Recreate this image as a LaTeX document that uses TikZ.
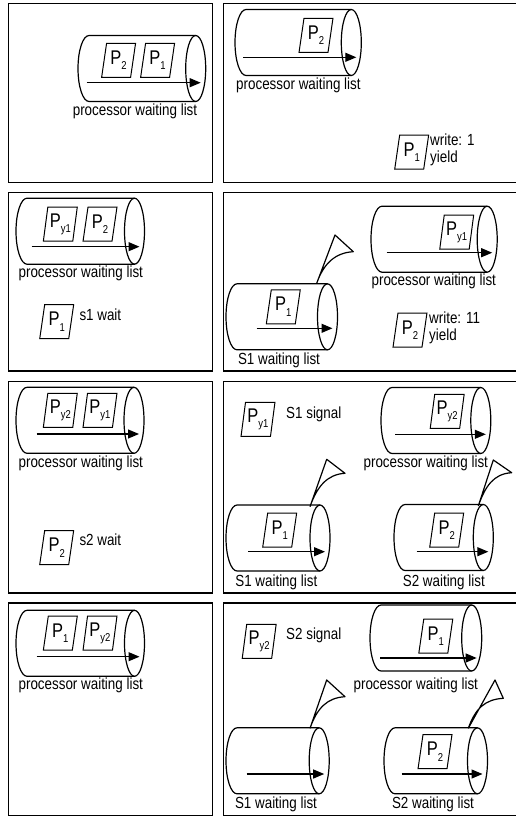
\documentclass[tikz,border=0pt]{standalone}
\usepackage{fontspec}
\setmainfont{Liberation Sans}
\usetikzlibrary{arrows.meta,shapes.geometric}

\newcommand{\tall}[1]{\scalebox{1}[1.2]{#1}}
\newcommand{\pn}[1]{\tall{{\fontsize{16.5}{16.5}\selectfont P}\raisebox{-4.5pt}{\fontsize{9.5}{9.5}\selectfont #1}}}
\newcommand{\wlist}[5]{%
	\draw[tube] (#2,#3+33) -- (#1,#3+33) arc[start angle=90, end angle=270, x radius=11, y radius=33] -- (#2,#3-33);
	\draw[tube] (#2,#3) ellipse[x radius=10, y radius=33];
	\draw[tube, ->] (#4,#5) -- (#2+5,#5);}
\newcommand{\sflag}[3]{%
	\draw[flagline] (#1) -- (#2) -- (#3) .. controls +(-18,1) and +(7,-20) .. (#1);}

\begin{document}
\begin{tikzpicture}[x=1pt, y=-1pt, >={Triangle[length=11pt,width=9pt]},
	frame/.style={line width=1.4pt},
	tube/.style={line width=1.2pt},
	flagline/.style={line width=1.2pt, line join=round},
	proc/.style={draw, line width=1pt, trapezium, trapezium left angle=80, trapezium right angle=100,
		trapezium stretches=true, minimum width=34pt, minimum height=34pt, inner sep=0pt},
	lbl/.style={font=\fontsize{13.4}{14}\selectfont, inner sep=1pt}]
	\useasboundingbox (0,0) rectangle (516,816);
	\clip (0,0) rectangle (516,816);
	\draw[frame] (8.3,3.3) rectangle (212.7,182.3);
	\draw[frame] (223.3,3.3) rectangle (530,182.3);
	\draw[frame] (8.3,192.3) rectangle (212.7,371);
	\draw[frame] (223.3,192.3) rectangle (530,371);
	\draw[frame] (8.3,381.7) rectangle (212.7,593);
	\draw[frame] (223.3,381.7) rectangle (530,593);
	\draw[frame] (8.3,603) rectangle (212.7,815.5);
	\draw[frame] (223.3,603) rectangle (530,815.5);

	\wlist{89}{195.7}{68.5}{86.7}{82.7}
	\node (pa2) at (118.6,60.3) [proc] {\pn{2}};
	\node (pa1) at (157.6,60.3) [proc] {\pn{1}};
	\node (la) at (135,111) [lbl] {\tall{processor waiting list}};

	\wlist{246}{351.3}{42.5}{243}{57.3}
	\node (pb2) at (316,35.3) [proc] {\pn{2}};
	\node (lb) at (298.4,85) [lbl] {\tall{processor waiting list}};
	\node (pb1) at (411.7,152) [proc] {\pn{1}};
	\node (tb) at (429,151) [lbl, anchor=west] {\tall{\begin{tabular}{@{}l@{}}write: 1\\yield\end{tabular}}};

	\wlist{27}{134.5}{231.2}{31.7}{246.7}
	\node (pcy1) at (60.3,224.2) [proc] {\pn{y1}};
	\node (pc2) at (100,224.2) [proc] {\pn{2}};
	\node (lc) at (80.8,273.3) [lbl] {\tall{processor waiting list}};
	\node (pc1) at (56.7,321.7) [proc] {\pn{1}};
	\node (tc) at (78.3,315) [lbl, anchor=west] {\tall{s1 wait}};

	\wlist{382}{487.2}{239.2}{386.7}{252.7}
	\node (pdy1) at (456.7,232.2) [proc] {\pn{y1}};
	\node (ld) at (433.8,281.7) [lbl] {\tall{processor waiting list}};
	\wlist{237}{327.5}{316.8}{256.7}{328.3}
	\node (pd1) at (283.3,306.8) [proc] {\pn{1}};
	\node (sd1) at (279,360) [lbl] {\tall{S1 waiting list}};
	\sflag{316.7,283.3}{335,235}{353.3,251.7}
	\node (pd2) at (410,330) [proc] {\pn{2}};
	\node (td) at (428,329) [lbl, anchor=west] {\tall{\begin{tabular}{@{}l@{}}write: 11\\yield\end{tabular}}};

	\wlist{27}{134}{420.3}{36.7}{434}
	\node (pey2) at (60.3,410.3) [proc] {\pn{y2}};
	\node (pey1) at (100,410.3) [proc] {\pn{y1}};
	\node (le) at (80.8,463.3) [lbl] {\tall{processor waiting list}};
	\node (pe2) at (56.7,547.5) [proc] {\pn{2}};
	\node (te) at (78.3,539.3) [lbl, anchor=west] {\tall{s2 wait}};

	\node (pfy1) at (258,419.3) [proc] {\pn{y1}};
	\node (tf) at (285,414) [lbl, anchor=west] {\tall{S1 signal}};
	\wlist{392}{480.8}{420.5}{395}{434.3}
	\node (pfy2) at (447.2,411.3) [proc] {\pn{y2}};
	\node (lf) at (425.8,463.3) [lbl] {\tall{processor waiting list}};
	\wlist{237}{320}{538}{248.3}{551.7}
	\node (pf1) at (279.7,530) [proc] {\pn{1}};
	\node (sf1) at (276.3,582.7) [lbl] {\tall{S1 waiting list}};
	\sflag{310,506.7}{326.7,459.3}{345,473.3}
	\wlist{405}{483.3}{537.5}{416.7}{551.7}
	\node (pf2) at (446.7,530) [proc] {\pn{2}};
	\node (sf2) at (443.8,582.7) [lbl] {\tall{S2 waiting list}};
	\sflag{478.3,506}{493.3,460}{511.7,472.7}

	\wlist{27}{134.5}{643.3}{36.7}{656.7}
	\node (pg1) at (60.3,633.2) [proc] {\pn{1}};
	\node (pgy2) at (100,633.2) [proc] {\pn{y2}};
	\node (lg) at (80.8,685.7) [lbl] {\tall{processor waiting list}};

	\node (phy2) at (259.2,641.3) [proc] {\pn{y2}};
	\node (th) at (285,635) [lbl, anchor=west] {\tall{S2 signal}};
	\wlist{381}{471.7}{638}{380}{658}
	\node (ph1) at (435.8,636) [proc] {\pn{1}};
	\node (lh) at (415.8,685) [lbl] {\tall{processor waiting list}};
	\wlist{237}{319.2}{760.8}{246.7}{774}
	\node (sh1) at (276,804.3) [lbl] {\tall{S1 waiting list}};
	\sflag{310,728.3}{326.7,680}{345,696.7}
	\wlist{395}{477.5}{760.8}{401.7}{774}
	\node (ph2) at (435,751.7) [proc] {\pn{2}};
	\node (sh2) at (433,804.3) [lbl] {\tall{S2 waiting list}};
	\sflag{468.3,728.3}{495,680}{503.3,698.3}
\end{tikzpicture}
\end{document}
